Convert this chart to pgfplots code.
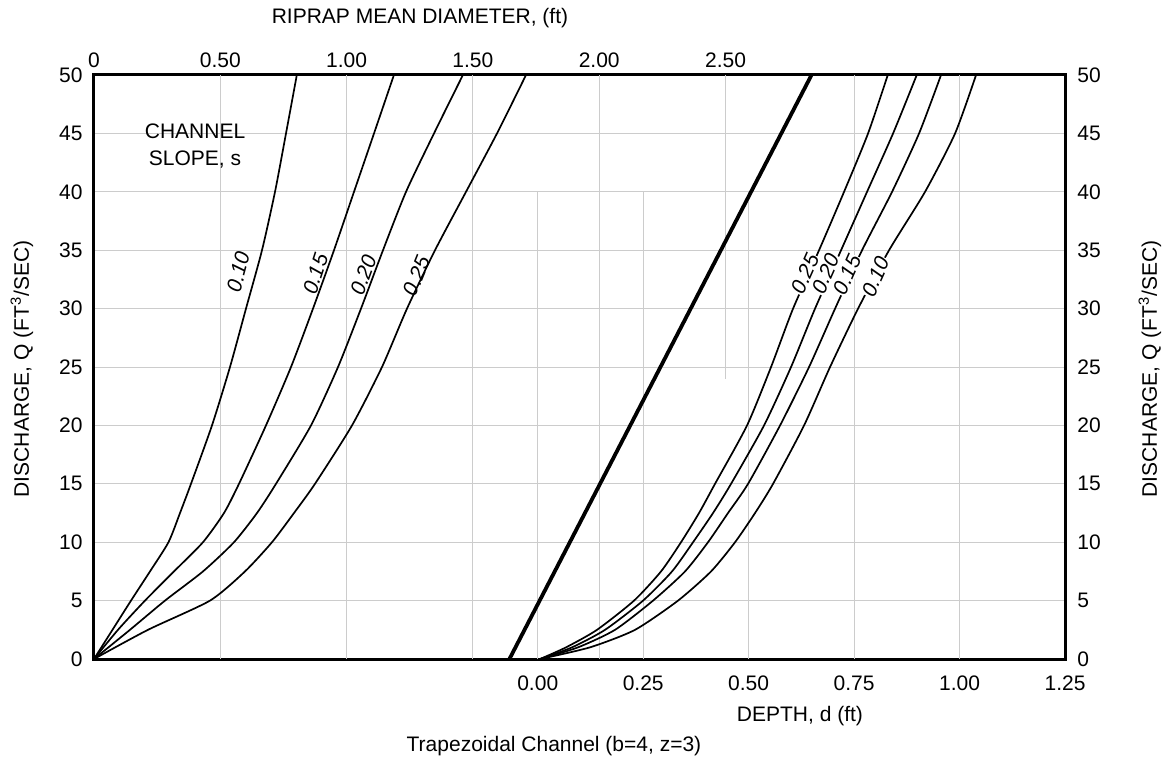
\documentclass[border=0pt]{standalone}
\usepackage{fontspec}
\setmainfont{Liberation Sans}
\usepackage{pgfplots}
\pgfplotsset{compat=1.18}

\pgfplotsset{
  gridl/.style={gray!40, line width=0.5pt, forget plot},
  crv/.style={black, line width=0.85pt, smooth, tension=0.4},
}

\begin{document}
\fontsize{10.5}{12.6}\selectfont
\begin{tikzpicture}
\useasboundingbox (-47pt,-51pt) rectangle (538.5pt,329.5pt);

% ---------- bottom axis: depth ----------
\begin{axis}[
  at={(0pt,0pt)}, anchor=south west,
  scale only axis, width=485.5pt, height=292pt,
  xmin=-1.052, xmax=1.25, ymin=0, ymax=50,
  xtick={0,0.25,0.5,0.75,1,1.25},
  xticklabels={0.00,0.25,0.50,0.75,1.00,1.25},
  ytick={0,5,10,15,20,25,30,35,40,45,50},
  ymajorgrids, grid style={gray!40, line width=0.5pt},
  major tick length=0pt,
  axis line style={line width=1.5pt},
  yticklabel style={xshift=-2pt},
  xticklabel style={yshift=-4.5pt},
  /pgf/number format/assume math mode=true,
  clip=false,
]
% vertical grid lines (top-scale positions converted, and depth scale)
\addplot[gridl] coordinates {(-0.7525,0) (-0.7525,50)};
\addplot[gridl] coordinates {(-0.4531,0) (-0.4531,50)};
\addplot[gridl] coordinates {(-0.1536,0) (-0.1536,50)};
\addplot[gridl] coordinates {(0.1458,0) (0.1458,50)};
\addplot[gridl] coordinates {(0.4452,24) (0.4452,50)};
\addplot[gridl] coordinates {(0,0) (0,40)};
\addplot[gridl] coordinates {(0.25,0) (0.25,40)};
\addplot[gridl] coordinates {(0.5,0) (0.5,40)};
\addplot[gridl] coordinates {(0.75,0) (0.75,50)};
\addplot[gridl] coordinates {(1,0) (1,50)};

% reference thick line
\addplot[black, line width=1.9pt] coordinates {(-0.0671,0) (0.649,50)};

% depth curves, s = 0.25, 0.20, 0.15, 0.10
\addplot[crv] coordinates {(0.0055,0) (0.0671,1) (0.1406,2.5) (0.2283,5) (0.2923,7.5) (0.3397,10) (0.3824,12.5) (0.4203,15) (0.4962,20) (0.5531,25) (0.6053,30) (0.6669,35) (0.7262,40) (0.7831,45) (0.8298,50)};
\addplot[crv] coordinates {(0.0055,0) (0.0813,1) (0.1596,2.5) (0.2497,5) (0.3184,7.5) (0.3682,10) (0.4156,12.5) (0.4583,15) (0.5365,20) (0.6005,25) (0.6574,30) (0.7191,35) (0.7807,40) (0.8424,45) (0.8985,50)};
\addplot[crv] coordinates {(0.0055,0) (0.0956,1) (0.1833,2.5) (0.2734,5) (0.3492,7.5) (0.4037,10) (0.4511,12.5) (0.4986,15) (0.5745,20) (0.6432,25) (0.7049,30) (0.7689,35) (0.8400,40) (0.9040,45) (0.9561,50)};
\addplot[crv] coordinates {(0.0055,0) (0.1240,1) (0.2307,2.5) (0.3326,5) (0.4109,7.5) (0.4678,10) (0.5152,12.5) (0.5579,15) (0.6314,20) (0.6930,25) (0.7594,30) (0.8329,35) (0.9182,40) (0.9894,45) (1.0391,50)};

% labels
\node[align=center, font=\fontsize{10.5}{13.5}\selectfont] at (axis cs:-0.8125,43.88) {CHANNEL\\SLOPE, s};
\node[rotate=75, font=\itshape] at (axis cs:-0.7098,33.11) {0.10};
\node[rotate=72, font=\itshape] at (axis cs:-0.5263,32.96) {0.15};
\node[rotate=70, font=\itshape] at (axis cs:-0.4135,32.88) {0.20};
\node[rotate=68, font=\itshape] at (axis cs:-0.2868,32.82) {0.25};
\node[rotate=66, font=\itshape, fill=white, inner sep=0.3pt] at (axis cs:0.6337,32.96) {0.25};
\node[rotate=66, font=\itshape, fill=white, inner sep=0.3pt] at (axis cs:0.6828,32.96) {0.20};
\node[rotate=66, font=\itshape, fill=white, inner sep=0.3pt] at (axis cs:0.7340,32.88) {0.15};
\node[rotate=66, font=\itshape, fill=white, inner sep=0.3pt] at (axis cs:0.8013,32.73) {0.10};

\node at (axis description cs:0.3357,1.0976) {RIPRAP MEAN DIAMETER, (ft)};
\node at (axis description cs:0.727,-0.0976) {DEPTH, d (ft)};
\node at (axis description cs:0.4737,-0.149) {Trapezoidal Channel (b=4, z=3)};
\node[rotate=90] at (axis description cs:-0.0742,0.4966) {DISCHARGE, Q (FT\textsuperscript{3}/SEC)};
\node[rotate=90] at (axis description cs:1.0875,0.4966) {DISCHARGE, Q (FT\textsuperscript{3}/SEC)};
\end{axis}

% ---------- top axis: riprap diameter ----------
\begin{axis}[
  at={(0pt,0pt)}, anchor=south west,
  scale only axis, width=485.5pt, height=292pt,
  xmin=0, xmax=3.844, ymin=0, ymax=50,
  axis x line*=top, axis y line*=right,
  axis line style={draw=none},
  xtick={0,0.5,1,1.5,2,2.5},
  xticklabels={0,0.50,1.00,1.50,2.00,2.50},
  ytick={0,5,10,15,20,25,30,35,40,45,50},
  major tick length=0pt,
  yticklabel style={xshift=2.5pt},
  /pgf/number format/assume math mode=true,
]
% riprap diameter curves, s = 0.10, 0.15, 0.20, 0.25
\addplot[crv] coordinates {(0,0) (0.0732,2.5) (0.1465,5) (0.2217,7.5) (0.2949,10) (0.3405,12.5) (0.3840,15) (0.4671,20) (0.5384,25) (0.6017,30) (0.6651,35) (0.7166,40) (0.7601,45) (0.8029,50)};
\addplot[crv] coordinates {(0,0) (0.0950,2.5) (0.2019,5) (0.3167,7.5) (0.4315,10) (0.5147,12.5) (0.5740,15) (0.6809,20) (0.7799,25) (0.8670,30) (0.9501,35) (1.0293,40) (1.1085,45) (1.1873,50)};
\addplot[crv] coordinates {(0,0) (0.1425,2.5) (0.2811,5) (0.4315,7.5) (0.5542,10) (0.6453,12.5) (0.7205,15) (0.8591,20) (0.9660,25) (1.0570,30) (1.1441,35) (1.2352,40) (1.3460,45) (1.4604,50)};
\addplot[crv] coordinates {(0,0) (0.2138,2.5) (0.4592,5) (0.5978,7.5) (0.7047,10) (0.7918,12.5) (0.8749,15) (1.0214,20) (1.1401,25) (1.2391,30) (1.3500,35) (1.4727,40) (1.5954,45) (1.7102,50)};
\end{axis}
\end{tikzpicture}
\end{document}
